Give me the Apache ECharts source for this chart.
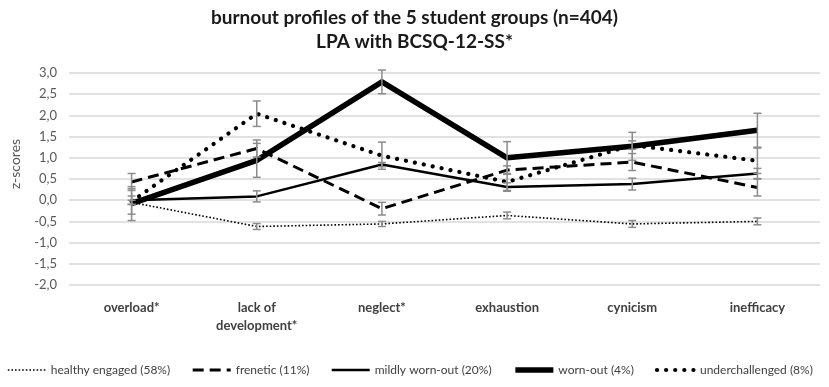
<!DOCTYPE html>
<html>
<head>
<meta charset="utf-8">
<script src="https://cdn.jsdelivr.net/npm/echarts@6/dist/echarts.min.js"></script>
<style>
  html, body { margin: 0; padding: 0; background: #fff; }
  #chart { width: 829px; height: 387px; }
</style>
</head>
<body>
<div id="chart"></div>
<script>
// categories and group means (z-scores)
var categories = ["overload*", "lack of\ndevelopment*", "neglect*", "exhaustion", "cynicism", "inefficacy"];
var names = ["healthy engaged (58%)", "frenetic (11%)", "mildly worn-out (20%)", "worn-out (4%)", "underchallenged (8%)"];

var healthy = [-0.05, -0.62, -0.56, -0.36, -0.56, -0.50];
var frenetic = [0.43, 1.22, -0.20, 0.71, 0.90, 0.30];
var mildly = [0.00, 0.09, 0.84, 0.31, 0.38, 0.63];
var wornOut = [-0.08, 0.94, 2.79, 1.00, 1.27, 1.65];
var underchallenged = [-0.03, 2.04, 1.05, 0.43, 1.30, 0.93];

// error bar half widths
var healthyErr = [0.05, 0.07, 0.06, 0.08, 0.08, 0.08];
var freneticErr = [0.20, 0.20, 0.15, 0.10, 0.20, 0.20];
var mildlyErr = [0.10, 0.13, 0.05, 0.10, 0.14, 0.12];
var wornOutErr = [0.40, 0.40, 0.28, 0.38, 0.33, 0.40];
var underErr = [0.30, 0.30, 0.32, 0.20, 0.10, 0.30];

var myChart = echarts.init(document.getElementById("chart"));

// line look of each group: width, dash, cap
var styles = [
  { width: 1.6, type: [1.6, 2], cap: "butt" },
  { width: 3, type: [11, 6], cap: "butt" },
  { width: 2.5, type: "solid", cap: "butt" },
  { width: 5.5, type: "solid", cap: "butt" },
  { width: 4.2, type: [0.1, 9], cap: "round" }
];

function errData(vals, errs) {
  var out = [];
  for (var i = 0; i < vals.length; i++) {
    out.push([i, vals[i] - errs[i], vals[i] + errs[i]]);
  }
  return out;
}

function renderErr(params, api) {
  var lo = api.coord([api.value(0), api.value(1)]);
  var hi = api.coord([api.value(0), api.value(2)]);
  var w = 4;
  var st = { stroke: "#8c8c8c", lineWidth: 1.5, fill: null };
  return {
    type: "group",
    children: [
      { type: "line", shape: { x1: hi[0], y1: hi[1], x2: lo[0], y2: lo[1] }, style: st },
      { type: "line", shape: { x1: hi[0] - w, y1: hi[1], x2: hi[0] + w, y2: hi[1] }, style: st },
      { type: "line", shape: { x1: lo[0] - w, y1: lo[1], x2: lo[0] + w, y2: lo[1] }, style: st }
    ]
  };
}

function lineSeries(i, data) {
  var s = styles[i];
  return {
    name: names[i],
    type: "line",
    data: data,
    symbol: "none",
    z: 3,
    lineStyle: { color: "#000", width: s.width, type: s.type, cap: s.cap, join: "round" },
    itemStyle: { color: "#000" }
  };
}

function errSeries(vals, errs) {
  return {
    type: "custom",
    renderItem: renderErr,
    data: errData(vals, errs),
    clip: false,
    z: 4,
    silent: true
  };
}

var legendData = names.map(function (n, i) {
  var s = styles[i];
  return {
    name: n,
    lineStyle: { color: "#000", width: s.width, type: s.type, cap: s.cap }
  };
});

var option = {
  animation: false,
  title: {
    text: "burnout profiles of the 5 student groups (n=404)\nLPA with BCSQ-12-SS*",
    left: "center",
    top: 1,
    textStyle: { fontFamily: "Lato", fontSize: 19, fontWeight: "bold", color: "#1a1a1a", lineHeight: 24 }
  },
  grid: { left: 67, right: 9, top: 73, bottom: 102 },
  legend: {
    data: legendData,
    bottom: 6,
    left: 2,
    right: 0,
    itemWidth: 38,
    itemHeight: 10,
    itemGap: 21,
    itemStyle: { opacity: 0 },
    textStyle: { fontFamily: "Lato", fontSize: 12, color: "#404040" }
  },
  xAxis: {
    type: "category",
    data: categories,
    boundaryGap: true,
    axisLine: { show: false },
    axisTick: { show: false },
    axisLabel: {
      margin: 14,
      fontFamily: "Lato",
      fontSize: 13,
      fontWeight: "bold",
      color: "#404040",
      lineHeight: 18
    }
  },
  yAxis: {
    type: "value",
    min: -2,
    max: 3,
    interval: 0.5,
    name: "z-scores",
    nameLocation: "middle",
    nameGap: 47,
    nameTextStyle: { fontFamily: "Lato", fontSize: 14, color: "#595959", padding: [0, 0, 0, 30] },
    axisLine: { show: false },
    axisTick: { show: false },
    splitLine: { lineStyle: { color: "#d9d9d9", width: 1.5 } },
    axisLabel: {
      margin: 12,
      fontFamily: "Lato",
      fontSize: 13,
      color: "#595959",
      formatter: function (v) { return v.toFixed(1).replace(".", ","); }
    }
  },
  series: [
    lineSeries(0, healthy),
    lineSeries(1, frenetic),
    lineSeries(2, mildly),
    lineSeries(3, wornOut),
    lineSeries(4, underchallenged),
    errSeries(healthy, healthyErr),
    errSeries(frenetic, freneticErr),
    errSeries(mildly, mildlyErr),
    errSeries(wornOut, wornOutErr),
    errSeries(underchallenged, underErr)
  ]
};

myChart.setOption(option);
</script>
</body>
</html>
